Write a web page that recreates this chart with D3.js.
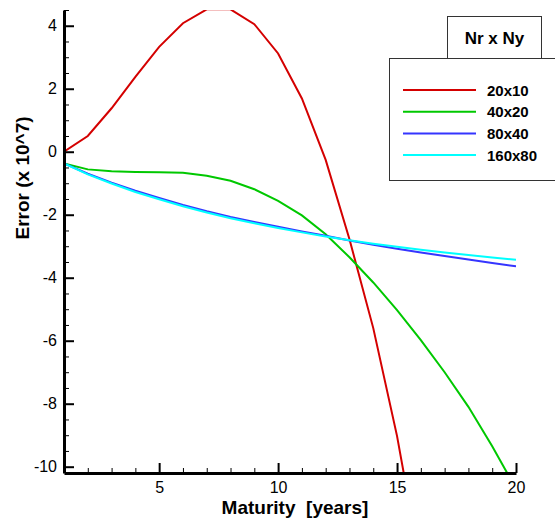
<!DOCTYPE html>
<html>
<head>
<meta charset="utf-8">
<script src="https://cdn.jsdelivr.net/npm/d3@7"></script>
<style>
    body { margin: 0; background: #fff; }
    svg { font-family: "Liberation Sans", Arial, sans-serif; }
    .axis text { font-size: 16px; fill: #000; }
    .axis path, .axis line { stroke: #000; }
</style>
</head>
<body>
<div id="chart"></div>
<script>
// maturities in years
var maturity = [1, 2, 3, 4, 5, 6, 7, 8, 9, 10, 11, 12, 13, 14, 15, 16, 17, 18, 19, 20];

var err20x10 = [0, 0.50, 1.38, 2.38, 3.33, 4.08, 4.52, 4.52, 4.05, 3.12, 1.69, -0.26, -2.78, -5.6, -9.03, -13.2];
var err40x20 = [-0.37, -0.56, -0.62, -0.64, -0.65, -0.67, -0.76, -0.92, -1.19, -1.56, -2.02, -2.62, -3.35, -4.15, -5.03, -5.98, -7.0, -8.1, -9.35, -10.7];
var err80x40 = [-0.37, -0.70, -0.98, -1.24, -1.47, -1.69, -1.89, -2.07, -2.23, -2.38, -2.53, -2.67, -2.82, -2.95, -3.08, -3.20, -3.31, -3.42, -3.53, -3.64];
var err160x80 = [-0.37, -0.72, -1.01, -1.28, -1.51, -1.73, -1.93, -2.11, -2.27, -2.42, -2.56, -2.69, -2.81, -2.92, -3.02, -3.11, -3.20, -3.28, -3.36, -3.43];

var seriesNames = ["20x10", "40x20", "80x40", "160x80"];
var seriesColors = ["#d40000", "#00c800", "#3535ff", "#00ffff"];
var seriesValues = [err20x10, err40x20, err80x40, err160x80];

var xMajor = [5, 10, 15, 20];
var yMajor = [-10, -8, -6, -4, -2, 0, 2, 4];

var width = 555, height = 518;
var plotLeft = 64, plotRight = 516, plotTop = 10, plotBottom = 473;

// plain hyphen for negatives, like the original plot
var plainFormat = function (d) { return String(d); };

var svg = d3.select("#chart").append("svg")
    .attr("width", width)
    .attr("height", height);

var x = d3.scaleLinear().domain([1, 20]).range([plotLeft, plotRight]);
var y = d3.scaleLinear().domain([-10.2, 4.5]).range([plotBottom, plotTop]);

svg.append("clipPath").attr("id", "plotclip")
    .append("rect")
    .attr("x", plotLeft).attr("y", plotTop)
    .attr("width", plotRight - plotLeft).attr("height", plotBottom - plotTop);

var line = d3.line()
    .x(function (d) { return x(d[0]); })
    .y(function (d) { return y(d[1]); });

var lines = svg.append("g").attr("clip-path", "url(#plotclip)");
seriesValues.forEach(function (vals, i) {
    var pts = vals.map(function (v, j) { return [maturity[j], v]; });
    lines.append("path")
        .attr("d", line(pts))
        .attr("fill", "none")
        .attr("stroke", seriesColors[i])
        .attr("stroke-width", 2);
});

// minor ticks
var xMinor = d3.range(2, 20).filter(function (v) { return v % 5 !== 0; });
var yMinor = d3.range(-10, 4.51, 0.5).filter(function (v) { return v % 2 !== 0; });

svg.append("g")
    .attr("class", "axis")
    .attr("transform", "translate(0," + plotBottom + ")")
    .call(d3.axisBottom(x).tickValues(xMinor).tickSize(-5).tickFormat(""))
    .call(function (g) { g.select(".domain").remove(); })
    .selectAll("line").attr("stroke", "#444");

svg.append("g")
    .attr("class", "axis")
    .attr("transform", "translate(" + plotLeft + ",0)")
    .call(d3.axisLeft(y).tickValues(yMinor).tickSize(-5).tickFormat(""))
    .call(function (g) { g.select(".domain").remove(); })
    .selectAll("line").attr("stroke", "#444");

// major ticks
var xAxis = svg.append("g")
    .attr("class", "axis")
    .attr("transform", "translate(0," + plotBottom + ")")
    .call(d3.axisBottom(x).tickValues(xMajor).tickFormat(plainFormat)
        .tickSizeInner(-10).tickSizeOuter(0).tickPadding(9));
xAxis.selectAll("line").attr("stroke-width", 2);
xAxis.select(".domain").attr("stroke-width", 3);

var yAxis = svg.append("g")
    .attr("class", "axis")
    .attr("transform", "translate(" + plotLeft + ",0)")
    .call(d3.axisLeft(y).tickValues(yMajor).tickFormat(plainFormat)
        .tickSizeInner(-10).tickSizeOuter(0).tickPadding(7));
yAxis.selectAll("line").attr("stroke-width", 2);
yAxis.select(".domain").attr("stroke-width", 3);

// axis titles
svg.append("text")
    .attr("x", 295).attr("y", 514)
    .attr("text-anchor", "middle")
    .attr("font-size", 19).attr("font-weight", "bold")
    .attr("xml:space", "preserve")
    .text("Maturity  [years]");

svg.append("text")
    .attr("transform", "translate(29,178)rotate(-90)")
    .attr("text-anchor", "middle")
    .attr("font-size", 19).attr("font-weight", "bold")
    .text("Error (x 10^7)");

// legend
svg.append("rect")
    .attr("x", 389.5).attr("y", 58.5)
    .attr("width", 180).attr("height", 122)
    .attr("fill", "#fff").attr("stroke", "#333");

svg.append("rect")
    .attr("x", 447.5).attr("y", 16.5)
    .attr("width", 94).attr("height", 42)
    .attr("fill", "#fff").attr("stroke", "#333");

svg.append("text")
    .attr("x", 494.5).attr("y", 44)
    .attr("text-anchor", "middle")
    .attr("font-size", 17).attr("font-weight", "bold")
    .text("Nr x Ny");

seriesNames.forEach(function (name, i) {
    var ly = 90 + i * 21.7;
    svg.append("line")
        .attr("x1", 403).attr("x2", 476)
        .attr("y1", ly).attr("y2", ly)
        .attr("stroke", seriesColors[i]).attr("stroke-width", 2);
    svg.append("text")
        .attr("x", 487).attr("y", ly + 5.5)
        .attr("font-size", 15).attr("font-weight", "bold")
        .text(name);
});
</script>
</body>
</html>
